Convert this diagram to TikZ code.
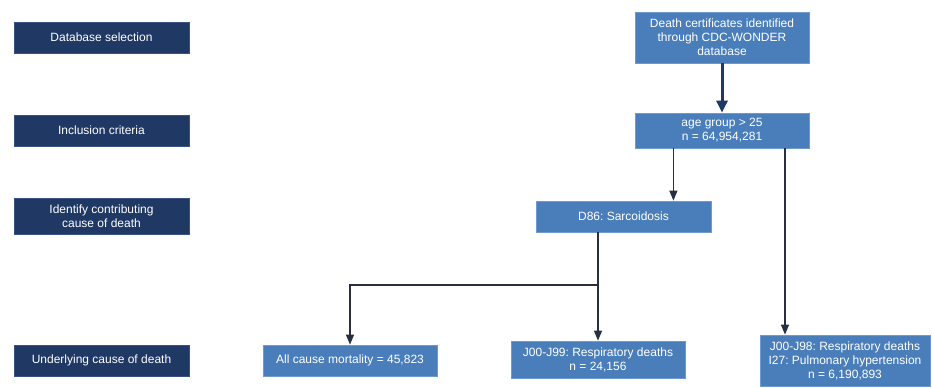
\documentclass[tikz,border=0pt]{standalone}
\usepackage{fontspec}
\setmainfont{Liberation Sans}
\usetikzlibrary{arrows.meta}
\frenchspacing
\definecolor{navy}{HTML}{1F3864}
\definecolor{navyedge}{HTML}{3A5283}
\definecolor{boxblue}{HTML}{4A7EBB}
\definecolor{blueedge}{HTML}{6E9AD0}
\definecolor{linedark}{HTML}{263040}
\begin{document}
\begin{tikzpicture}[x=1pt,y=-1pt,
  base/.style={rectangle, inner sep=0pt, text=white, align=center, font=\fontsize{12}{14}\selectfont\frenchspacing, line width=0.8pt},
  stage/.style={base, fill=navy, draw=navyedge},
  databox/.style={base, fill=boxblue, draw=blueedge},
  conn/.style={draw=linedark, line width=1.2pt, -{Triangle[length=10pt,width=8pt]}},
  plainconn/.style={draw=linedark, line width=1.2pt},
  bigconn/.style={draw=navy, line width=3pt, -{Triangle[length=12pt,width=11pt]}}]
\useasboundingbox (0,0) rectangle (932,388);
% stage boxes
\node[stage, minimum width=175pt, minimum height=31pt] (s1) at (101.5,37.5) {Database selection};
\node[stage, minimum width=175pt, minimum height=31pt] (s2) at (101.5,130.5) {Inclusion criteria};
\node[stage, minimum width=175pt, minimum height=36pt] (s3) at (101.5,216) {Identify contributing\\cause of death};
\node[stage, minimum width=175pt, minimum height=31pt] (s4) at (101.5,360.5) {Underlying cause of death};
% data boxes
\node[databox, minimum width=174pt, minimum height=51pt] (cert) at (722,37.5) {Death certificates identified\\through CDC-WONDER\\database};
\node[databox, minimum width=174pt, minimum height=35pt] (age) at (722,130.5) {age group {>} 25\\n = 64,954,281};
\node[databox, minimum width=175pt, minimum height=31pt] (d86) at (623.5,216.5) {D86: Sarcoidosis};
\node[databox, minimum width=174pt, minimum height=31pt] (allc) at (350,360.5) {All cause mortality = 45,823};
\node[databox, minimum width=174pt, minimum height=37pt] (j99) at (598,359.5) {J00-J99: Respiratory deaths\\n = 24,156};
\node[databox, minimum width=170pt, minimum height=51pt] (j98) at (845,360.5) {J00-J98: Respiratory deaths\\I27: Pulmonary hypertension\\n = 6,190,893};
% connectors
\draw[bigconn] (cert.south) -- (age.north);
\draw[conn] (age.south -| d86.north east) ++(-38,0) coordinate (a1) -- (a1 |- d86.north);
\draw[conn] (age.south) ++(63,0) coordinate (a2) -- (a2 |- j98.north);
\coordinate (split) at (598,285);
\draw[plainconn] (split |- d86.south) -- (split);
\draw[conn] (split) -- (j99.north);
\draw[conn] (split) -| (allc.north);
\end{tikzpicture}
\end{document}
